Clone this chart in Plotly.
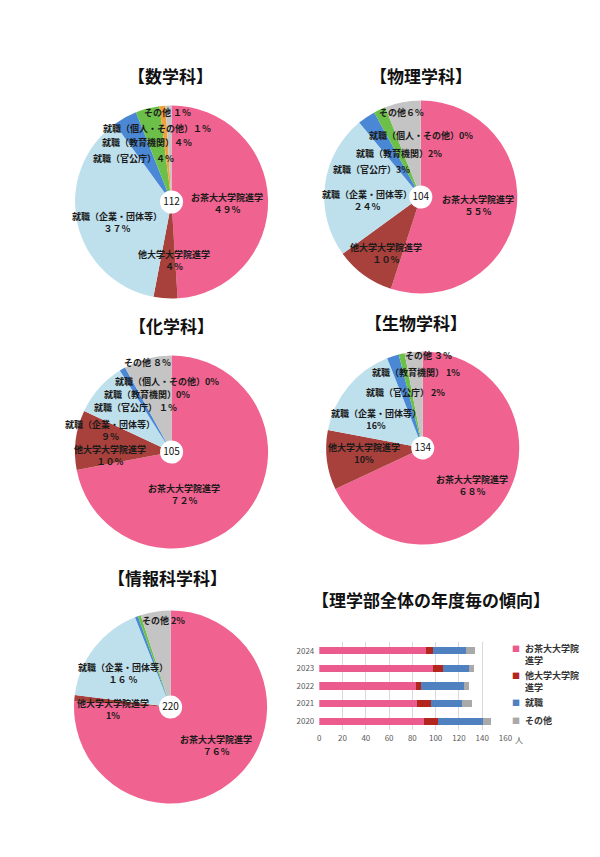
import plotly.graph_objects as go

W, H = 600, 857
JP = "Noto Sans CJK JP"

# --- pie data (5-year totals per department) ---
categories = ["お茶大大学院進学", "他大学大学院進学", "就職（企業・団体等）", "就職（官公庁）",
              "就職（教育機関）", "就職（個人・その他）", "その他"]
pie_colors = ["#F0628F", "#A8403C", "#BEE0EC", "#4A88D6", "#6CC04A", "#F2A23C", "#C4C4C4"]

dept_titles = ["【数学科】", "【物理学科】", "【化学科】", "【生物学科】", "【情報科学科】"]
dept_totals = [112, 104, 105, 134, 220]

math_pct = [49, 4, 37, 4, 4, 1, 1]
phys_pct = [55, 10, 24, 3, 2, 0, 6]
chem_pct = [72, 10, 9, 1, 0, 0, 8]
bio_pct = [68, 10, 16, 2, 1, 0, 3]
info_pct = [76, 1, 17, 0.5, 0.5, 0, 5]

math_labels = ["その他 １％", "就職（個人・その他）１％", "就職（教育機関）４％", "就職（官公庁）４％",
               "お茶大大学院進学<br>４９％", "就職（企業・団体等）<br>３７％", "他大学大学院進学<br>４％"]
phys_labels = ["その他６%", "就職（個人・その他）0%", "就職（教育機関）2%", "就職（官公庁）3%",
               "就職（企業・団体等）<br>２４％", "お茶大大学院進学<br>５５％", "他大学大学院進学<br>１０％"]
chem_labels = ["その他 ８％", "就職（個人・その他）0%", "就職（教育機関）0%", "就職（官公庁） １％",
               "就職（企業・団体等）<br>９％", "他大学大学院進学<br>１０％", "お茶大大学院進学<br>７２％"]
bio_labels = ["その他 ３％", "就職（教育機関） 1%", "就職（官公庁） 2%",
              "就職（企業・団体等）<br>16%", "他大学大学院進学<br>10%", "お茶大大学院進学<br>６８％"]
info_labels = ["その他 2%", "就職（企業・団体等）<br>１６ ％", "他大学大学院進学<br>1%",
               "お茶大大学院進学<br>７６%"]

# --- stacked bar data (faculty total per year) ---
years = ["2020", "2021", "2022", "2023", "2024"]
bar_names = ["お茶大大学院<br>進学", "他大学大学院<br>進学", "就職", "その他"]
ochadai = [90, 84, 83, 98, 92]
other_grad = [12, 12, 4, 8, 6]
employed = [39, 27, 37, 23, 28]
others = [7, 8, 5, 4, 8]
bar_colors = ["#EC5B8D", "#B3261E", "#4F80C0", "#A9A9A9"]

# page body adds an 8px margin, so target pixels are shifted back by it
OFF = 8

def px(x):
    return (x - OFF) / W

def py(y):
    return 1 - (y - OFF) / H

def dom(cx, cy, r):
    return dict(x=[px(cx - r), px(cx + r)], y=[py(cy + r), py(cy - r)])

pie_centers = [(172, 202), (425, 197), (172, 452), (427, 448), (171, 707)]
pie_r = 98
title_pos = [(171, 75), (425, 75), (172, 325), (420, 322), (168, 577)]
label_pos = [
    [(168, 113), (157, 129), (147, 142), (133, 158), (228, 203), (117, 223), (175, 260)],
    [(405, 113), (425, 136), (403, 154), (375, 169), (370, 200), (483, 206), (390, 254)],
    [(148, 362), (167, 381), (147, 394), (135, 407), (110, 430), (110, 455), (185, 495)],
    [(433, 355), (420, 372), (410, 393), (380, 420), (367, 454), (477, 485)],
    [(164, 620), (123, 673), (113, 709), (217, 745)],
]
legend_pos = [(529, 654), (529, 681), (529, 702), (529, 720)]
pie_values = [math_pct, phys_pct, chem_pct, bio_pct, info_pct]
pie_texts = [math_labels, phys_labels, chem_labels, bio_labels, info_labels]

fig = go.Figure()

for i in range(5):
    cx, cy = pie_centers[i]
    fig.add_trace(go.Pie(
        values=pie_values[i],
        labels=categories,
        marker=dict(colors=pie_colors, line=dict(width=0)),
        sort=False,
        direction="clockwise",
        rotation=0,
        hole=0.12,
        textinfo="none",
        showlegend=False,
        domain=dom(cx, cy, pie_r),
        title=dict(text=str(dept_totals[i]), position="middle center",
                   font=dict(family=JP, size=10, color="#111")),
    ))

bar_series = [ochadai, other_grad, employed, others]
for name, vals, col in zip(bar_names, bar_series, bar_colors):
    fig.add_trace(go.Bar(
        y=years, x=vals, name=name.replace("<br>", ""), orientation="h",
        marker=dict(color=col, line=dict(width=0)),
        xaxis="x", yaxis="y", showlegend=False,
    ))

annotations = []
for i in range(5):
    tx, ty = title_pos[i]
    annotations.append(dict(
        x=px(tx), y=py(ty), xref="paper", yref="paper", showarrow=False,
        text="<b>" + dept_titles[i] + "</b>",
        font=dict(family=JP, size=17, color="#111"),
        xanchor="center", yanchor="middle",
    ))
    for txt, (lx, ly) in zip(pie_texts[i], label_pos[i]):
        annotations.append(dict(
            x=px(lx), y=py(ly), xref="paper", yref="paper", showarrow=False,
            text="<b>" + txt + "</b>", align="center",
            font=dict(family=JP, size=9, color="#1a1a1a"),
            xanchor="center", yanchor="middle",
        ))

# legend of the bar chart (small squares like the original)
for name, col, (lx, ly) in zip(bar_names, bar_colors, legend_pos):
    first_line_y = ly - (6 if "<br>" in name else 0)
    annotations.append(dict(
        x=px(lx - 1), y=py(first_line_y), xref="paper", yref="paper", showarrow=False,
        text="■", font=dict(family=JP, size=8, color=col),
        xanchor="right", yanchor="middle",
    ))
    annotations.append(dict(
        x=px(lx), y=py(ly), xref="paper", yref="paper", showarrow=False,
        text="<b>" + name + "</b>", align="left",
        font=dict(family=JP, size=9, color="#333"),
        xanchor="left", yanchor="middle",
    ))

annotations.append(dict(
    x=px(435), y=py(599), xref="paper", yref="paper", showarrow=False,
    text="<b>【理学部全体の年度毎の傾向】</b>",
    font=dict(family=JP, size=17, color="#111"),
    xanchor="center", yanchor="middle",
))
annotations.append(dict(
    x=160, xref="x", xshift=14, y=py(739), yref="paper", showarrow=False,
    text="人", font=dict(family=JP, size=8, color="#595959"),
    xanchor="center", yanchor="middle",
))

fig.update_layout(
    width=W, height=H,
    margin=dict(l=0, r=0, t=0, b=0),
    paper_bgcolor="white", plot_bgcolor="white",
    font=dict(family=JP, size=9, color="#222"),
    barmode="stack",
    bargap=0.6,
    showlegend=False,
    xaxis=dict(
        domain=[px(322), px(511)], anchor="y",
        range=[0, 160], dtick=20, showgrid=True, gridcolor="#D9D9D9", gridwidth=1,
        zeroline=False, showline=False,
        tickfont=dict(family=JP, size=8, color="#595959"), ticks="", ticklabelstandoff=2,
    ),
    yaxis=dict(
        domain=[py(730), py(642)], anchor="x",
        type="category", showgrid=False, zeroline=False, showline=False,
        tickfont=dict(family=JP, size=8, color="#595959"), ticks="", ticklabelstandoff=4,
    ),
    annotations=annotations,
)

fig.write_html("out.html")
